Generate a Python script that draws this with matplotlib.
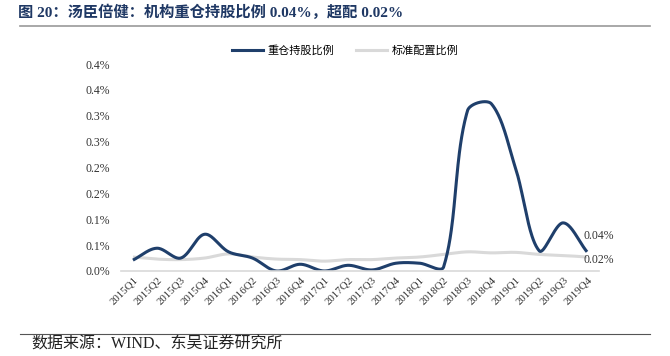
import numpy as np
import matplotlib
matplotlib.use("Agg")
import matplotlib.pyplot as plt
from matplotlib.lines import Line2D

quarters = ["2015Q1", "2015Q2", "2015Q3", "2015Q4", "2016Q1", "2016Q2", "2016Q3", "2016Q4",
            "2017Q1", "2017Q2", "2017Q3", "2017Q4", "2018Q1", "2018Q2", "2018Q3", "2018Q4",
            "2019Q1", "2019Q2", "2019Q3", "2019Q4"]
heavy = [0.021, 0.044, 0.025, 0.071, 0.037, 0.025, 0.000, 0.013, 0.000, 0.011,
         0.002, 0.015, 0.015, 0.008, 0.310, 0.323, 0.200, 0.039, 0.093, 0.037]
standard = [0.027, 0.023, 0.022, 0.025, 0.033, 0.027, 0.023, 0.022, 0.019, 0.022,
            0.022, 0.025, 0.027, 0.032, 0.037, 0.035, 0.036, 0.032, 0.030, 0.027]
ytick_vals = [0.0, 0.05, 0.10, 0.15, 0.20, 0.25, 0.30, 0.35, 0.40]
ytick_labels = ["0.0%", "0.1%", "0.1%", "0.2%", "0.2%", "0.3%", "0.3%", "0.4%", "0.4%"]
series_names = ["重仓持股比例", "标准配置比例"]
end_labels = ["0.04%", "0.02%"]

DARK = "#1F3F6B"
GRAY = "#D9D9D9"
SERIF = ["Liberation Serif", "Noto Sans CJK SC"]
SANS = ["Noto Sans CJK SC", "DejaVu Sans"]


def smooth(x, y, sx=23.9, sy=517.5, n=40):
    """Excel-like smoothing: Bezier segments whose control arms scale with
    neighbouring segment lengths (computed in display-like units)."""
    P = np.column_stack([np.asarray(x, float) * sx, np.asarray(y, float) * sy])
    N = len(P)
    out = []
    for i in range(N - 1):
        p0 = P[i - 1] if i > 0 else P[i]
        p1, p2 = P[i], P[i + 1]
        p3 = P[i + 2] if i + 2 < N else P[i + 1]
        d01 = np.linalg.norm(p1 - p0)
        d12 = np.linalg.norm(p2 - p1)
        d23 = np.linalg.norm(p3 - p2)
        t1 = p2 - p0
        t2 = p3 - p1
        a1 = d12 / (d01 + d12) if (d01 + d12) > 0 else 0
        a2 = d12 / (d12 + d23) if (d12 + d23) > 0 else 0
        c1 = p1 + t1 * a1 / 3
        c2 = p2 - t2 * a2 / 3
        t = np.linspace(0, 1, n, endpoint=(i == N - 2))[:, None]
        seg = (1 - t) ** 3 * p1 + 3 * (1 - t) ** 2 * t * c1 + 3 * (1 - t) * t ** 2 * c2 + t ** 3 * p2
        out.append(seg)
    pts = np.vstack(out)
    return pts[:, 0] / sx, pts[:, 1] / sy


fig = plt.figure(figsize=(6.7, 3.56), dpi=100)
ax = fig.add_axes([0.1806, 0.2388, 0.7134, 0.5814])

xs = np.arange(len(quarters))
gx, gy = smooth(xs, standard)
ax.plot(gx, gy, color=GRAY, lw=2.2, solid_capstyle="butt")
hx, hy = smooth(xs, heavy)
ax.plot(hx, hy, color=DARK, lw=2.2, solid_capstyle="butt")

ax.set_xlim(-0.5, len(quarters) - 0.5)
ax.set_ylim(0, 0.40)
ax.set_yticks(ytick_vals)
ax.set_yticklabels(ytick_labels, fontfamily=SERIF, fontsize=8.5, color="#333333")
ax.set_xticks(xs)
ax.set_xticklabels(quarters, rotation=45, ha="right", rotation_mode="anchor",
                   fontfamily=SERIF, fontsize=7.8, color="#333333")
ax.tick_params(axis="both", length=0, pad=3)
ax.tick_params(axis="y", pad=8)
for s in ["top", "right", "left"]:
    ax.spines[s].set_visible(False)
ax.spines["bottom"].set_color(GRAY)
ax.spines["bottom"].set_linewidth(1.2)

ax.text(xs[-1] - 0.15, heavy[-1] + 0.03, end_labels[0], fontfamily=SERIF, fontsize=8.5,
        color="#333333", va="center", ha="left")
ax.text(xs[-1] - 0.15, standard[-1] - 0.006, end_labels[1], fontfamily=SERIF, fontsize=8.5,
        color="#333333", va="center", ha="left")

handles = [Line2D([0], [0], color=DARK, lw=2.2), Line2D([0], [0], color=GRAY, lw=2.2)]
fig.legend(handles, series_names, loc="center", bbox_to_anchor=(0.515, 0.857), ncol=2,
           frameon=False, prop={"family": SANS, "size": 8}, handlelength=2.8,
           columnspacing=2.0, handletextpad=0.4)

fig.text(0.027, 0.965, "图 20：汤臣倍健：机构重仓持股比例 0.04%，超配 0.02%",
         fontfamily=SERIF, fontsize=11, fontweight="bold", color="#1F3864",
         va="center", ha="left")
fig.add_artist(Line2D([0.03, 0.97], [0.927, 0.927], color="#999999", lw=1.2,
                      transform=fig.transFigure))
fig.add_artist(Line2D([0.03, 0.97], [0.062, 0.062], color="#555555", lw=0.8,
                      transform=fig.transFigure))
fig.text(0.047, 0.033, "数据来源：WIND、东吴证券研究所", fontfamily=SERIF, fontsize=11.5,
         color="#222222", va="center", ha="left")

fig.savefig("out.png", dpi=100)
